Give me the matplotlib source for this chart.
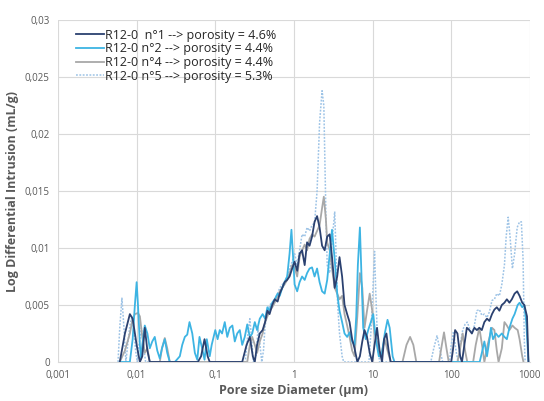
import matplotlib
matplotlib.use("Agg")
import matplotlib.pyplot as plt
from matplotlib.ticker import FixedLocator, FixedFormatter

# series: (pore diameter in um, log differential intrusion in mL/g)
d1 = [0.0061, 0.0071, 0.0082, 0.0089, 0.01, 0.011, 0.0118, 0.0127, 0.0137, 0.0147,
      0.06, 0.066, 0.073, 0.08, 0.085, 0.22, 0.25, 0.275, 0.3, 0.318, 0.34, 0.368,
      0.4, 0.43, 0.46, 0.49, 0.53, 0.57, 0.62, 0.66, 0.71, 0.76, 0.82, 0.88, 0.95,
      1.02, 1.1, 1.18, 1.27, 1.37, 1.47, 1.58, 1.7, 1.83, 1.97, 2.12, 2.28, 2.46,
      2.65, 2.85, 3.05, 3.3, 3.55, 3.8, 4.1, 4.4, 4.75, 5.1, 5.5, 5.9, 6.4, 6.9,
      7.4, 7.9, 8.5, 9.2, 9.9, 10.6, 11.4, 12.3, 13.2, 14, 15, 16, 17, 100, 105,
      112, 120, 130, 137, 147, 158, 170, 183, 197, 212, 228, 245, 264, 285, 306,
      330, 354, 380, 410, 440, 475, 510, 550, 590, 640, 690, 740, 800, 850, 920, 960]
v1 = [0, 0.0025, 0.0042, 0.0038, 0.0015, 0, 0.0005, 0.003, 0.001, 0,
      0, 0.0005, 0.002, 0.0005, 0, 0, 0.0015, 0.0022, 0.0005, 0, 0.0015, 0.0025,
      0.0028, 0.0035, 0.0045, 0.0042, 0.005, 0.0055, 0.0053, 0.006, 0.0065, 0.007, 0.0072, 0.0075, 0.0082,
      0.0088, 0.008, 0.0095, 0.0098, 0.0085, 0.0105, 0.0102, 0.011, 0.0123, 0.0128, 0.0118, 0.0102, 0.0098,
      0.011, 0.0112, 0.0092, 0.0065, 0.0075, 0.0092, 0.0075, 0.005, 0.0042, 0.0035, 0.002, 0.0012, 0, 0.0005,
      0.0018, 0.0028, 0.0022, 0.0008, 0, 0.0015, 0.003, 0.001, 0, 0.002, 0.0025, 0.001, 0, 0, 0.001,
      0.0028, 0.0025, 0.0005, 0, 0.0015, 0.003, 0.0028, 0.0025, 0.003, 0.0028, 0.003, 0.0028, 0.0035, 0.0038, 0.0036,
      0.0042, 0.0046, 0.0048, 0.0045, 0.005, 0.0052, 0.0055, 0.0052, 0.0055, 0.006, 0.0062, 0.0058, 0.0052, 0.005, 0.004, 0]

d2 = [0.0061, 0.0082, 0.0089, 0.0095, 0.01, 0.0104, 0.011, 0.0114, 0.0118, 0.0127,
      0.0137, 0.0147, 0.0158, 0.017, 0.0183, 0.0197, 0.021, 0.0228, 0.0245, 0.0264,
      0.0306, 0.0354, 0.038, 0.041, 0.044, 0.047, 0.051, 0.055, 0.059, 0.063, 0.068,
      0.073, 0.078, 0.085, 0.09, 0.1, 0.107, 0.114, 0.122, 0.132, 0.142, 0.153, 0.165,
      0.177, 0.19, 0.205, 0.22, 0.237, 0.255, 0.275, 0.295, 0.318, 0.34, 0.368, 0.4,
      0.43, 0.46, 0.49, 0.53, 0.57, 0.62, 0.66, 0.71, 0.76, 0.82, 0.88, 0.93, 0.98,
      1.02, 1.1, 1.18, 1.27, 1.37, 1.47, 1.58, 1.7, 1.83, 1.97, 2.12, 2.28, 2.46, 2.65,
      2.85, 3.05, 3.3, 3.55, 3.8, 4.1, 4.4, 4.75, 5.1, 5.5, 5.9, 6.2, 6.5, 6.9, 7.2,
      7.6, 8.2, 8.8, 9.5, 10.2, 11, 12, 13, 14.3, 15.5, 16.5, 18, 19, 230, 245, 264,
      285, 300, 320, 340, 370, 400, 440, 475, 510, 550, 600, 640, 700, 740, 800, 850,
      900, 960]
v2 = [0, 0, 0.002, 0.005, 0.007, 0.005, 0.0015, 0.0003, 0.0015, 0.0032,
      0.0025, 0.0012, 0.0018, 0.0022, 0.001, 0.0003, 0.0012, 0.002, 0.0008, 0,
      0, 0.0005, 0.0015, 0.0022, 0.0024, 0.0035, 0.0025, 0.0008, 0.0002, 0.0022, 0.0012,
      0.0002, 0.002, 0.0005, 0.0015, 0.0028, 0.002, 0.0028, 0.0025, 0.0035, 0.0022, 0.003, 0.0032,
      0.0018, 0.0025, 0.0028, 0.0015, 0.0022, 0.0033, 0.0022, 0.0025, 0.0035, 0.0028, 0.0038, 0.0042,
      0.0038, 0.0048, 0.0045, 0.0052, 0.0055, 0.006, 0.0058, 0.0065, 0.007, 0.0075, 0.0095, 0.0116, 0.009,
      0.0068, 0.0062, 0.007, 0.0075, 0.0072, 0.0078, 0.0082, 0.0083, 0.0075, 0.0082, 0.007, 0.0062, 0.006, 0.0072,
      0.0095, 0.0116, 0.009, 0.006, 0.0045, 0.0035, 0.0025, 0.0022, 0.0026, 0.0018, 0.0015, 0.004, 0.0085, 0.0118, 0.008,
      0.003, 0.002, 0.0028, 0.0035, 0.0042, 0.002, 0.0005, 0.0005, 0.0025, 0.0037, 0.003, 0.0005, 0, 0, 0.0008, 0.0018,
      0.0005, 0.0015, 0.003, 0.002, 0.0025, 0.0022, 0.0025, 0.0022, 0.002, 0.003, 0.0038, 0.0042, 0.005, 0.0052, 0.0048, 0.005,
      0.0035, 0]

d4 = [0.0061, 0.0071, 0.0082, 0.0089, 0.0095, 0.0104, 0.011, 0.0118, 0.0127, 0.0137,
      0.0147, 0.0197, 0.021, 0.0228, 0.0245, 0.0264, 0.255, 0.275, 0.295, 0.318, 0.34,
      0.368, 0.4, 0.43, 0.46, 0.49, 0.53, 0.57, 0.62, 0.66, 0.71, 0.76, 0.82, 0.88,
      0.95, 1.02, 1.1, 1.18, 1.27, 1.37, 1.47, 1.58, 1.7, 1.83, 1.97, 2.12, 2.28, 2.4,
      2.55, 2.65, 2.85, 3.05, 3.3, 3.55, 3.8, 4.1, 4.4, 4.75, 5.1, 5.5, 5.9, 6.4, 6.9,
      7.4, 7.9, 8.5, 9.2, 9.9, 10.6, 11.4, 12.3, 13.2, 14.3, 15.5, 17, 24, 27, 30, 33,
      36, 70, 76, 81, 87, 93, 120, 130, 140, 150, 160, 190, 205, 228, 250, 264, 290,
      330, 354, 380, 400, 440, 475, 510, 550, 600, 640, 700, 740, 800, 830]
v4 = [0, 0.001, 0.0025, 0.0038, 0.0042, 0.0043, 0.004, 0.0022, 0.0008, 0.0012,
      0, 0, 0.0012, 0.0021, 0.0012, 0, 0, 0.0015, 0.0022, 0.0015, 0.0008,
      0.0018, 0.0025, 0.0035, 0.004, 0.0045, 0.0048, 0.0052, 0.0058, 0.0062, 0.0065, 0.0068, 0.0072, 0.0078,
      0.0085, 0.0083, 0.0075, 0.0092, 0.0098, 0.0103, 0.0098, 0.0108, 0.0112, 0.011, 0.0115, 0.012, 0.0135, 0.0145,
      0.0125, 0.0105, 0.0098, 0.0082, 0.0065, 0.006, 0.0055, 0.0058, 0.0042, 0.0032, 0.0022, 0.001, 0.0005, 0.004, 0.0078,
      0.0065, 0.003, 0.0045, 0.006, 0.0045, 0.0025, 0.0018, 0.0005, 0.001, 0.002, 0.001, 0, 0, 0.0015, 0.0022, 0.0015,
      0, 0, 0.0015, 0.0026, 0.0012, 0, 0, 0.0012, 0.0025, 0.001, 0, 0, 0.0015, 0.003, 0.0012, 0, 0.0015,
      0.003, 0.0028, 0.001, 0, 0.0012, 0.0035, 0.0032, 0.0028, 0.0032, 0.003, 0.0028, 0.002, 0.0005, 0]

d5 = [0.0058, 0.0061, 0.0065, 0.0069, 0.0073, 0.0077, 0.0082, 0.0086, 0.0092, 0.0097,
      0.0102, 0.0107, 0.0115, 0.0122, 0.013, 0.24, 0.26, 0.275, 0.29, 0.305, 0.33, 0.35,
      0.37, 0.39, 0.41, 0.43, 0.46, 0.49, 0.53, 0.57, 0.62, 0.66, 0.71, 0.76, 0.82,
      0.88, 0.95, 1.02, 1.1, 1.18, 1.27, 1.37, 1.47, 1.58, 1.7, 1.83, 1.97, 2.12, 2.28,
      2.4, 2.55, 2.65, 2.85, 3.05, 3.3, 3.45, 3.6, 3.8, 4.1, 4.3, 9, 9.6, 10.2, 10.6,
      11, 11.6, 12.3, 55, 60, 66, 72, 78, 95, 100, 107, 115, 122, 130, 140, 150, 160,
      170, 183, 197, 212, 228, 245, 264, 285, 306, 330, 354, 380, 410, 440, 475, 500,
      530, 560, 600, 640, 690, 740, 780, 820, 850, 870]
v5 = [0, 0.003, 0.0056, 0.003, 0, 0.0015, 0.0032, 0.0038, 0.003, 0.001,
      0, 0.0015, 0.003, 0.0015, 0, 0, 0.0025, 0.0038, 0.002, 0, 0.0005, 0.003,
      0.0015, 0, 0.001, 0.0032, 0.0042, 0.005, 0.0052, 0.0055, 0.006, 0.0065, 0.0068, 0.007, 0.0075,
      0.0082, 0.0088, 0.0095, 0.0085, 0.0098, 0.0112, 0.011, 0.0118, 0.0115, 0.012, 0.0122, 0.015, 0.021, 0.0238,
      0.0225, 0.013, 0.0085, 0.0078, 0.0105, 0.0132, 0.009, 0.005, 0.0025, 0.0005, 0, 0, 0.003, 0.007, 0.0097,
      0.006, 0.0015, 0, 0, 0.0012, 0.0023, 0.001, 0, 0, 0.0015, 0.0027, 0.001, 0, 0.0015, 0.0028, 0.0033, 0.0035,
      0.003, 0.0025, 0.0032, 0.0045, 0.0046, 0.0041, 0.0042, 0.0039, 0.0044, 0.0054, 0.0055, 0.006, 0.0058, 0.0068, 0.0085, 0.011,
      0.0127, 0.011, 0.0082, 0.0095, 0.0118, 0.0123, 0.0123, 0.009, 0.002, 0]

labels = ["R12-0  n°1 --> porosity = 4.6%",
          "R12-0 n°2 --> porosity = 4.4%",
          "R12-0 n°4 --> porosity = 4.4%",
          "R12-0 n°5 --> porosity = 5.3%"]
x_ticks = [0.001, 0.01, 0.1, 1, 10, 100, 1000]
x_tick_labels = ["0,001", "0,01", "0,1", "1", "10", "100", "1000"]
y_ticks = [0, 0.005, 0.01, 0.015, 0.02, 0.025, 0.03]
y_tick_labels = ["0", "0,005", "0,01", "0,015", "0,02", "0,025", "0,03"]

plt.rcParams['font.family'] = ['Open Sans', 'DejaVu Sans']

fig = plt.figure(figsize=(5.44, 4.01), dpi=100)
ax = fig.add_axes([0.1066, 0.0973, 0.8674, 0.8527])

ax.plot(d1, v1, color="#2b4170", lw=1.3, label=labels[0], zorder=4)
ax.plot(d2, v2, color="#3db4e3", lw=1.3, label=labels[1], zorder=3)
ax.plot(d4, v4, color="#a8a8a8", lw=1.3, label=labels[2], zorder=2)
ax.plot(d5, v5, color="#9dc3e6", lw=1.1, ls=(0, (1.2, 1.0)), label=labels[3], zorder=1)

ax.set_xscale("log")
ax.set_xlim(0.001, 1000)
ax.set_ylim(0, 0.03)
ax.xaxis.set_major_locator(FixedLocator(x_ticks))
ax.xaxis.set_major_formatter(FixedFormatter(x_tick_labels))
ax.xaxis.set_minor_locator(FixedLocator([]))
ax.yaxis.set_major_locator(FixedLocator(y_ticks))
ax.yaxis.set_major_formatter(FixedFormatter(y_tick_labels))
ax.grid(True, color="#d9d9d9", lw=0.8)
ax.set_axisbelow(True)
for s in ["top", "right", "left"]:
    ax.spines[s].set_visible(False)
ax.spines["bottom"].set_color("#d9d9d9")
ax.tick_params(length=0, labelsize=7, labelcolor="#595959", pad=6)

ax.set_xlabel("Pore size Diameter (µm)", fontsize=9, fontweight="bold", color="#595959", labelpad=2)
ax.set_ylabel("Log Differential Intrusion (mL/g)", fontsize=9, fontweight="bold", color="#595959", labelpad=4)

leg = ax.legend(loc="upper left", bbox_to_anchor=(0.02, 1.0), frameon=False, fontsize=9,
                handlelength=2.2, handletextpad=0.1, labelspacing=0.05, borderaxespad=0.3)
for t in leg.get_texts():
    t.set_color("#262626")

fig.savefig("out.png", dpi=100)
